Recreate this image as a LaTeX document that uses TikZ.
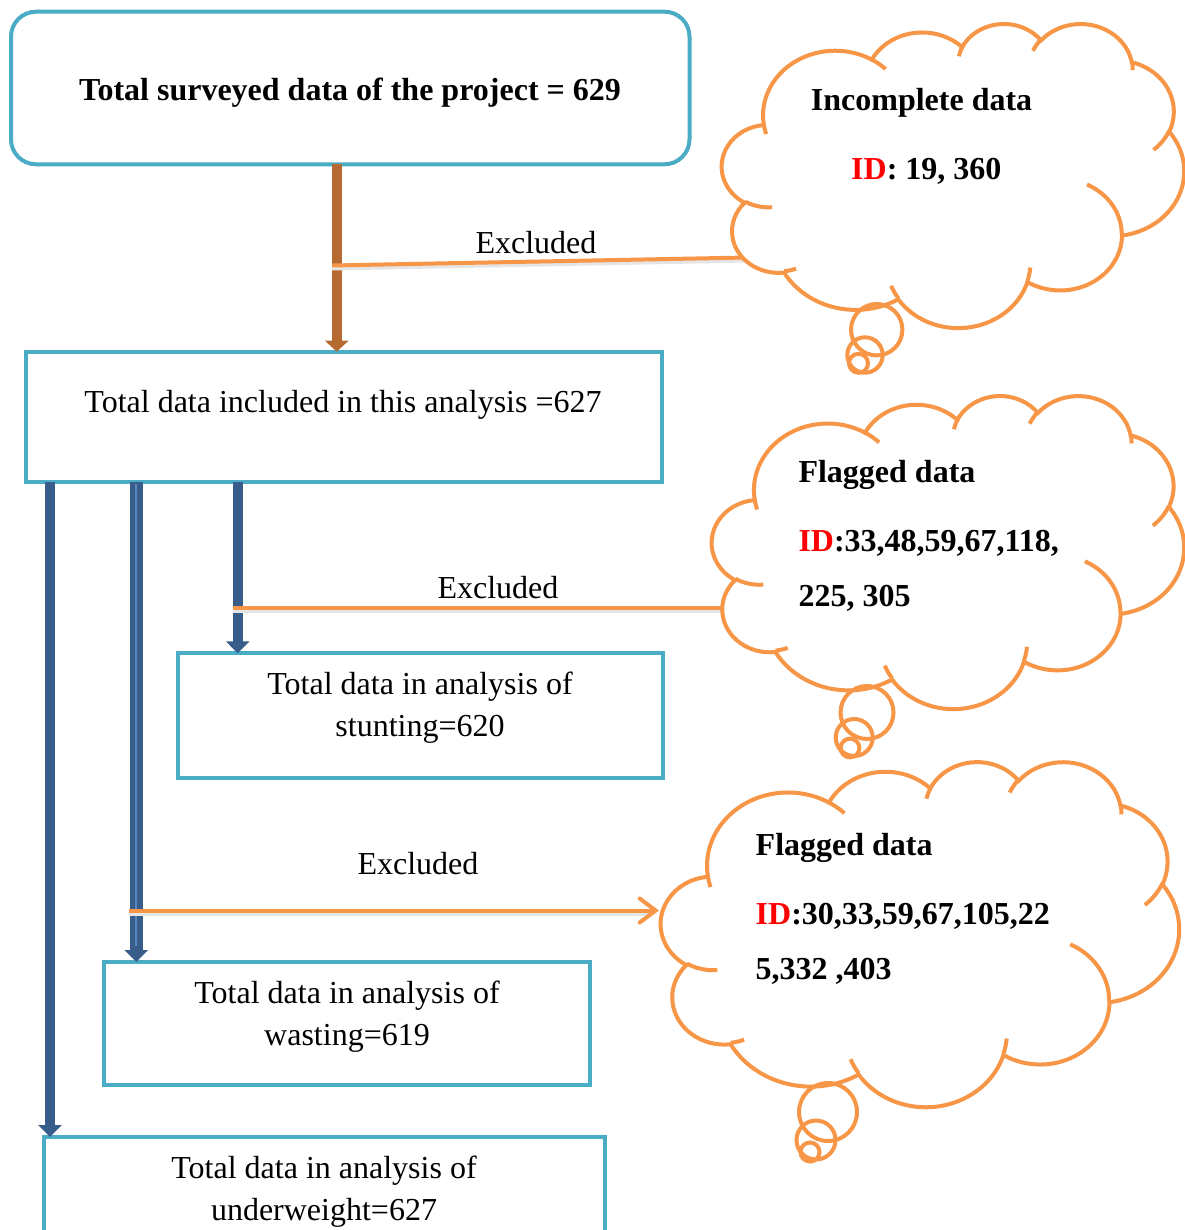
\documentclass[tikz,border=0pt]{standalone}
\usepackage{fontspec}
\setmainfont{Liberation Serif}
\usetikzlibrary{arrows.meta}
\definecolor{teal1}{HTML}{4BACC6}
\definecolor{orng}{HTML}{F79646}
\definecolor{brwn}{HTML}{B66A31}
\definecolor{dblue}{HTML}{385D8A}
\definecolor{lblue}{HTML}{5B86C0}
\definecolor{idred}{HTML}{FF0000}

% elliptical arc in DrawingML manner (geometric angles -> parametric angles)
\newcommand\cprep[5]{%
  \pgfmathsetmacro\cpS{atan2((#2)*sin(#4),(#3)*cos(#4))}%
  \pgfmathsetmacro\cpE{atan2((#2)*sin((#4)+(#5)),(#3)*cos((#4)+(#5)))}%
  \pgfmathsetmacro\cpD{(#5)+Mod(\cpE-\cpS-(#5)+180,360)-180}%
  \xdef#1{arc[x radius=#2pt, y radius=#3pt, start angle=\cpS, delta angle=\cpD]}}
\cprep\cgA{67.53}{91.90}{-190.4875}{123.7805}
\cprep\cgB{53.33}{72.67}{-144.1024}{89.9452}
\cprep\cgC{43.65}{59.45}{-145.8079}{99.7230}
\cprep\cgD{48.57}{65.95}{-130.9861}{117.2417}
\cprep\cgE{53.33}{72.73}{-78.7089}{109.0269}
\cprep\cgF{67.75}{92.20}{-46.2673}{130.2690}
\cprep\cgG{57.85}{78.67}{0.6250}{114.0333}
\cprep\cgH{67.52}{92.15}{22.4516}{115.1726}
\cprep\cgI{77.20}{105.43}{66.2426}{75.7110}
\cprep\cgJ{43.60}{59.18}{-274.9421}{146.7356}
\cprep\cgK{43.45}{59.45}{-246.8285}{152.5189}
\cprep\cnA{43.45}{59.45}{86.7420}{26.4295}
\cprep\cnB{43.60}{59.18}{73.6105}{11.4475}
\cprep\cnC{67.52}{92.15}{137.6242}{14.0811}
\cprep\cnD{67.52}{92.15}{6.4533}{15.9984}
\cprep\cnE{57.85}{78.67}{-70.2924}{70.9174}
\cprep\cnF{53.33}{72.73}{30.3180}{27.7515}
\cprep\cnG{48.57}{65.95}{-13.7443}{14.8589}
\cprep\cnH{48.57}{65.95}{-149.1815}{18.1954}
\cprep\cnI{43.65}{59.45}{-163.4943}{17.6864}
\cprep\cnJ{67.53}{91.90}{-66.7070}{12.3194}
\cprep\cnK{67.53}{91.90}{157.6544}{11.8582}

\newcommand\drawcloud[4]{%
  \begin{scope}[shift={(#1,#2)},xscale={#3/432},yscale={#4/432}]
    \filldraw[cloudline,fill=white] (39.00,143.70) \cgA \cgB \cgC \cgD \cgE \cgF \cgG \cgH \cgI \cgJ \cgK -- cycle;
    \draw[cloudline] (46.93,261.77) \cnA (69.28,348.99) \cnB (164.78,390.90) \cnC
      (288.27,347.51) \cnD (341.29,229.54) \cnE (417.98,153.54) \cnF
      (383.24,54.26) \cnG (290.78,39.52) \cnH (221.41,47.20) \cnI
      (140.00,51.92) \cnJ (41.27,157.89) \cnK;
  \end{scope}}

\begin{document}
\begin{tikzpicture}[x=1pt,y=1pt,yscale=-1,
  boxs/.style={draw=teal1,line width=4pt,outer sep=0pt,inner sep=0pt},
  txt/.style={font=\fontsize{32}{42}\selectfont,inner sep=0pt,anchor=base},
  btxt/.style={font=\bfseries\fontsize{32}{42}\selectfont,inner sep=0pt,anchor=base west},
  cloudline/.style={draw=orng,line width=4pt},
  bubble/.style={draw=orng,line width=4pt},
  orline/.style={draw=orng,line width=4pt},
  shadowline/.style={draw=black!10,line width=4pt},
  brar/.style={draw=brwn,line width=10pt,-{Triangle[length=11pt,width=23pt]}},
  blar/.style={draw=dblue,line width=10pt,-{Triangle[length=12pt,width=23pt]}}]

\useasboundingbox (0,0) rectangle (1184,1230);
\fill[white] (0,0) rectangle (1184,1230);

% boxes
\node[boxs,rounded corners=25pt,minimum width=678.5pt,minimum height=152.6pt] (b1) at (350.25,88) {};
\node[boxs,minimum width=636pt,minimum height=130pt] (b2) at (344,416.7) {};
\node[boxs,minimum width=484.2pt,minimum height=124.2pt] (b3) at (420.4,715.4) {};
\node[boxs,minimum width=486pt,minimum height=122.5pt] (b4) at (347,1023.25) {};
\node[boxs,minimum width=561.5pt,minimum height=130pt] (b5) at (324.25,1202) {};

% box texts
\node[txt,font=\bfseries\fontsize{32}{42}\selectfont] (t1) at (350,101) {Total surveyed data of the project = 629};
\node[txt] (t2) at (343,412) {Total data included in this analysis =627};
\node[txt] (t3a) at (420,694) {Total data in analysis of};
\node[txt] (t3b) at (420,736) {stunting=620};
\node[txt] (t4a) at (347,1003) {Total data in analysis of};
\node[txt] (t4b) at (347,1045) {wasting=619};
\node[txt] (t5a) at (324,1178) {Total data in analysis of};
\node[txt] (t5b) at (324,1220) {underweight=627};

% main arrows
\draw[brar] ([xshift=-13.5pt]b1.south) -- ([xshift=-13.5pt]b1.south |- b2.north);
\draw[blar] ([xshift=-294pt]b2.south) -- ([xshift=-294pt]b2.south |- b5.north);
\draw[blar,line width=12.5pt] ([xshift=-207.7pt]b2.south) -- ([xshift=-207.7pt]b2.south |- b4.north);
\draw[lblue,line width=2.3pt] ([xshift=-207.8pt,yshift=2pt]b2.south) -- ([xshift=-207.8pt,yshift=-16pt]b2.south |- b4.north);
\draw[blar] ([xshift=-106.3pt]b2.south) -- ([xshift=-106.3pt]b2.south |- b3.north);

% excluded connectors (over the arrows, behind the clouds)
\coordinate (o1s) at (332,265.5);
\coordinate (o1e) at (748,257.5);
\coordinate (o2s) at (233,607.5);
\coordinate (o2e) at (726,607.5);
\coordinate (o3s) at (129,910.5);
\coordinate (o3e) at (659,910.5);
\draw[shadowline] ([yshift=3pt]o1s) -- ([yshift=3pt]o1e);
\draw[shadowline] ([yshift=3pt]o2s) -- ([yshift=3pt]o2e);
\draw[orline] (o1s) -- (o1e);
\draw[orline] (o2s) -- (o2e);

\node[txt] (x1) at (536,254) {Excluded};
\node[txt] (x2) at (498,598) {Excluded};
\node[txt] (x3) at (418,874) {Excluded};

% clouds
\drawcloud{722}{23}{462}{304}
\drawcloud{712}{395}{472}{313}
\drawcloud{661}{761}{518}{345}

\draw[bubble] (876.7,329.7) circle[radius=25.7pt];
\draw[bubble] (865,355) circle[radius=17.7pt];
\draw[bubble] (858.5,363.3) circle[radius=9.5pt];
\draw[bubble] (867,712.5) circle[radius=26.5pt];
\draw[bubble] (854.2,737.5) circle[radius=18.5pt];
\draw[bubble] (850,748) circle[radius=9.4pt];
\draw[bubble] (828,1112) circle[radius=29pt];
\draw[bubble] (816,1140) circle[radius=19.5pt];
\draw[bubble] (810,1152) circle[radius=9.5pt];

% third excluded arrow (tip on the cloud)
\draw[shadowline] ([yshift=3pt]o3s) -- ([yshift=3pt,xshift=-8pt]o3e);
\draw[orline,-{Straight Barb[length=16pt,width=24pt,line cap=round]}] (o3s) -- (o3e);

% cloud texts
\node[btxt] (c1a) at (810.7,110.7) {Incomplete data};
\node[btxt] (c1b) at (851,180) {\textcolor{idred}{ID}: 19, 360};
\node[btxt] (c2a) at (798.3,482.7) {Flagged data};
\node[btxt] (c2b) at (798.3,551.7) {\textcolor{idred}{ID}:33,48,59,67,118,};
\node[btxt] (c2c) at (798.3,606.7) {225, 305};
\node[btxt] (c3a) at (755.5,855) {Flagged data};
\node[btxt] (c3b) at (755.5,924) {\textcolor{idred}{ID}:30,33,59,67,105,22};
\node[btxt] (c3c) at (755.5,979) {5,332 ,403};
\end{tikzpicture}
\end{document}
